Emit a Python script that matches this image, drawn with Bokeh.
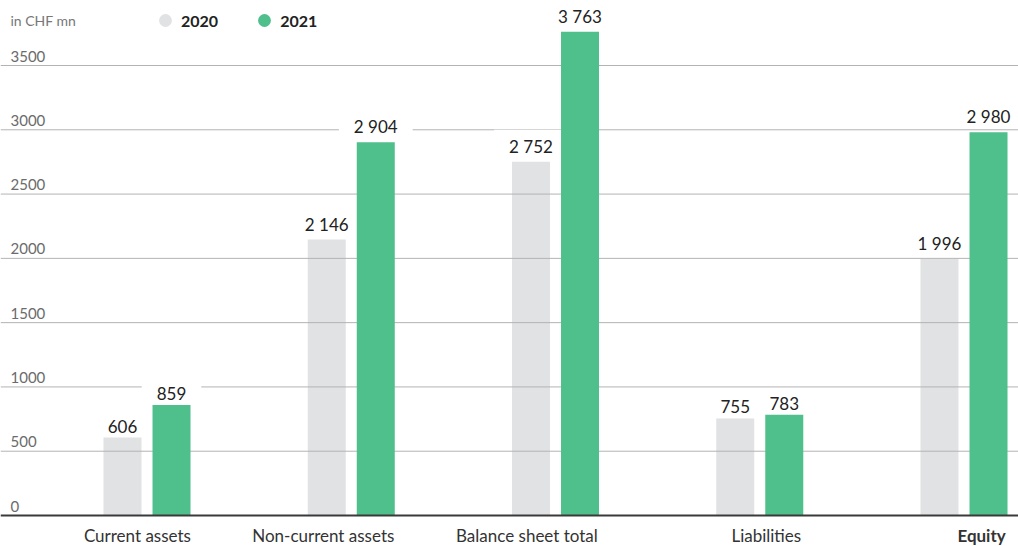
import numpy as np
from bokeh.plotting import figure
from bokeh.models import Range1d, Legend, LegendItem, Label, ColumnDataSource
from bokeh.core.properties import value
from bokeh.embed import file_html
from bokeh.resources import INLINE

categories = ["Current assets", "Non-current assets", "Balance sheet total", "Liabilities", "Equity"]
values_2020 = [606, 2146, 2752, 755, 1996]
values_2021 = [859, 2904, 3763, 783, 2980]
y_ticks = [0, 500, 1000, 1500, 2000, 2500, 3000, 3500]
series_names = ["2020", "2021"]

# styles / layout
FONT = "Lato"
GRAY = "#e1e2e4"
GREEN = "#4fbf8b"
label_dx = [-0.047, -0.137, -0.140, 0.032, 0.086]
label_style = ["normal", "normal", "normal", "normal", "bold"]
bar_w = 0.186
off = 0.12
W, H = 1018, 546

def fmt(v):
    return f"{v:,}".replace(",", " ")

idx = np.arange(len(categories))

p = figure(width=W, height=H, output_backend="svg", toolbar_location=None,
           x_range=Range1d(-0.7173, 4.2668), y_range=Range1d(-241.1, 4005.6),
           min_border=0, outline_line_color=None)
p.xaxis.visible = False
p.yaxis.visible = False
p.xgrid.visible = False
p.ygrid.visible = False
p.background_fill_color = "white"

xs = p.x_range.start
xe = p.x_range.end

src20 = ColumnDataSource(dict(x=idx - off, top=values_2020, lab=[fmt(v) for v in values_2020]))
src21 = ColumnDataSource(dict(x=idx + off, top=values_2021, lab=[fmt(v) for v in values_2021]))

label_kw = dict(y_offset=-5, text_font=value(FONT), text_font_size="17px",
                text_align="center", text_baseline="bottom")

r20 = p.vbar(x="x", top="top", bottom=0, width=bar_w, source=src20, fill_color=GRAY, line_color=None)

# gridlines
grid_y = [t for t in y_ticks if t > 0]
p.segment(x0=xs, x1=xe, y0=grid_y, y1=grid_y, line_color="#b3b3b3", line_width=1)

# white knock-out boxes behind the value labels (hide the gridlines only)
for src in (src20, src21):
    p.text(x="x", y="top", text="lab", source=src, text_alpha=0,
           background_fill_color="white", padding=(15, 3), **label_kw)

r21 = p.vbar(x="x", top="top", bottom=0, width=bar_w, source=src21, fill_color=GREEN, line_color=None)

# baseline axis
p.segment(x0=xs, x1=xe, y0=0, y1=0, line_color="#3a3a3a", line_width=2)

# tick labels
p.text(x=xs, y=y_ticks, text=[str(t) for t in y_ticks], x_offset=10, y_offset=-4,
       text_font=value(FONT), text_font_size="15px", text_color="#6b6b6b",
       text_align="left", text_baseline="bottom")

# value labels
for src in (src20, src21):
    p.text(x="x", y="top", text="lab", source=src, text_color="#222222", **label_kw)

# category labels
cat_src = ColumnDataSource(dict(x=idx + np.array(label_dx), y=[0] * len(categories),
                                text=categories, style=label_style))
p.text(x="x", y="y", text="text", source=cat_src, y_offset=9,
       text_font=value(FONT), text_font_size="17px", text_color="#333333",
       text_font_style="style", text_align="center", text_baseline="top")

# legend (dummy markers placed outside the visible range)
d20 = p.scatter(x=[xs - 10], y=[0], marker="circle", size=13, fill_color=GRAY, line_color=None)
d21 = p.scatter(x=[xs - 10], y=[0], marker="circle", size=13, fill_color=GREEN, line_color=None)
legend = Legend(items=[LegendItem(label=series_names[0], renderers=[d20]),
                       LegendItem(label=series_names[1], renderers=[d21])],
                orientation="horizontal", location=(149, H - 36),
                label_text_font=FONT, label_text_font_size="16px",
                label_text_font_style="bold", label_text_color="#222222",
                glyph_width=32, glyph_height=32, label_standoff=-6, spacing=30,
                padding=0, margin=0, border_line_color=None, background_fill_alpha=0)
p.add_layout(legend)

p.add_layout(Label(x=10, y=H - 20, x_units="screen", y_units="screen", text="in CHF mn",
                   text_font=FONT, text_font_size="14px", text_color="#777777",
                   text_baseline="middle"))

open("out.html", "w").write(file_html(p, INLINE))
